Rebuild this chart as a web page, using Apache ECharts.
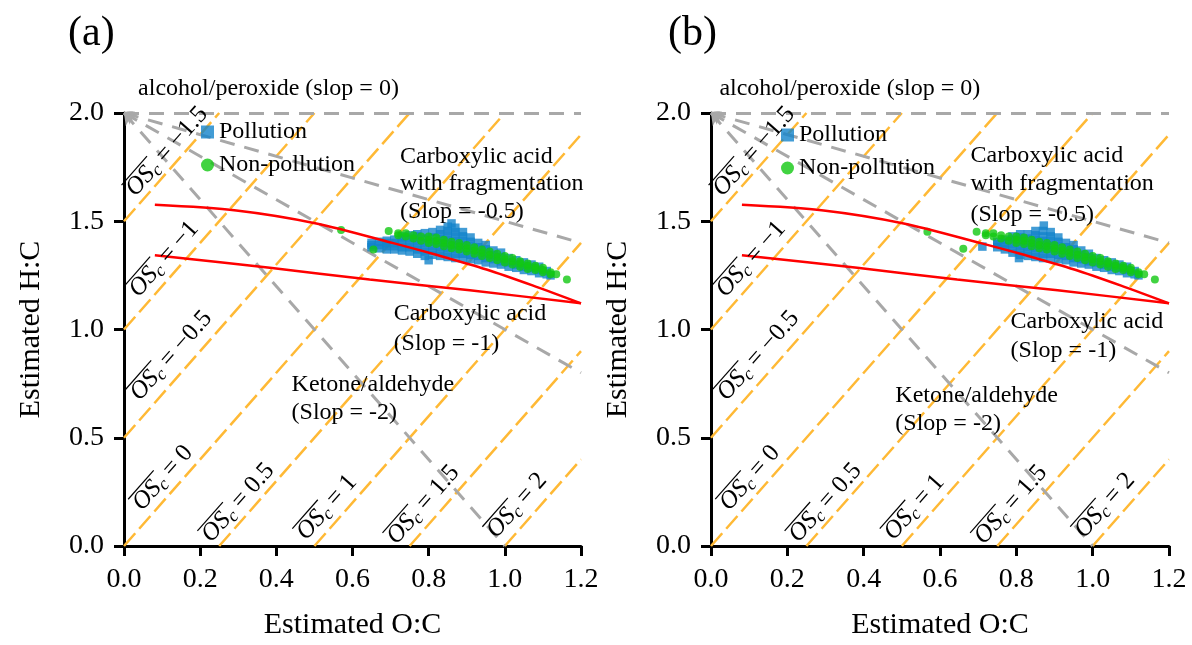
<!DOCTYPE html>
<html>
<head>
<meta charset="utf-8">
<title>Van Krevelen</title>
<script src="https://cdn.jsdelivr.net/npm/echarts@6.0.0/dist/echarts.min.js"></script>
<style>
html, body { margin: 0; padding: 0; background: #fff; }
#main { width: 1192px; height: 645px; }
</style>
</head>
<body>
<div id="main"></div>
<script>
// ---------------- data ----------------
const xTicks = [0, 0.2, 0.4, 0.6, 0.8, 1.0, 1.2];
const yTicks = [0, 0.5, 1.0, 1.5, 2.0];

// average carbon oxidation state lines (H:C = 2*O:C - OSc)
const oscValues = ['\u22121.5', '\u22121', '\u22120.5', '0', '0.5', '1', '1.5', '2'];
const oscLines = [
  [[0, 1.5], [0.25, 2]],
  [[0, 1], [0.5, 2]],
  [[0, 0.5], [0.75, 2]],
  [[0, 0], [1, 2]],
  [[0.25, 0], [1.2, 1.9]],
  [[0.5, 0], [1.2, 1.4]],
  [[0.75, 0], [1.2, 0.9]],
  [[1, 0], [1.2, 0.4]]
];
// centre of each OSc label
const oscLabelPos = [
  [0.113, 1.822], [0.105, 1.325], [0.124, 0.879], [0.102, 0.314],
  [0.300, 0.200], [0.533, 0.178], [0.786, 0.191], [1.032, 0.187]
];

// functionalisation slopes drawn from (0, 2)
const slopeLines = [
  [[0, 2], [1.2, 2]],
  [[0, 2], [1.2, 1.4]],
  [[0, 2], [1.2, 0.8]],
  [[0, 2], [1, 0]]
];

// red boundary curves
const redUpper = [[0.081, 1.576], [0.295, 1.550], [0.505, 1.490], [0.707, 1.399], [0.820, 1.345], [0.952, 1.277], [1.083, 1.197], [1.2, 1.121]];
const redLower = [[0.081, 1.343], [0.383, 1.285], [0.645, 1.231], [0.908, 1.181], [1.2, 1.121]];

// panel (a)
const pollutionA = [
  [0.65,1.38],[0.65,1.39],[0.65,1.40],
  [0.67,1.375],[0.67,1.39],[0.67,1.405],
  [0.69,1.37],[0.69,1.385],[0.69,1.40],[0.69,1.41],
  [0.71,1.37],[0.71,1.385],[0.71,1.40],[0.71,1.415],
  [0.73,1.365],[0.73,1.38],[0.73,1.40],[0.73,1.42],[0.73,1.43],
  [0.75,1.36],[0.75,1.38],[0.75,1.40],[0.75,1.42],[0.75,1.435],
  [0.77,1.35],[0.77,1.37],[0.77,1.39],[0.77,1.41],[0.77,1.43],[0.77,1.44],
  [0.79,1.34],[0.79,1.36],[0.79,1.38],[0.79,1.40],[0.79,1.42],[0.79,1.445],
  [0.80,1.32],
  [0.81,1.345],[0.81,1.365],[0.81,1.385],[0.81,1.405],[0.81,1.425],[0.81,1.45],
  [0.83,1.34],[0.83,1.36],[0.83,1.38],[0.83,1.40],[0.83,1.42],[0.83,1.44],[0.83,1.46],
  [0.85,1.335],[0.85,1.355],[0.85,1.375],[0.85,1.395],[0.85,1.415],[0.85,1.435],[0.85,1.455],[0.85,1.475],
  [0.86,1.49],
  [0.87,1.33],[0.87,1.35],[0.87,1.37],[0.87,1.39],[0.87,1.41],[0.87,1.43],[0.87,1.45],[0.87,1.47],
  [0.89,1.33],[0.89,1.35],[0.89,1.37],[0.89,1.39],[0.89,1.41],[0.89,1.43],[0.89,1.45],
  [0.91,1.325],[0.91,1.345],[0.91,1.365],[0.91,1.385],[0.91,1.405],[0.91,1.425],
  [0.93,1.32],[0.93,1.34],[0.93,1.36],[0.93,1.38],[0.93,1.40],
  [0.95,1.31],[0.95,1.33],[0.95,1.35],[0.95,1.37],[0.95,1.39],
  [0.97,1.305],[0.97,1.325],[0.97,1.345],[0.97,1.365],
  [0.99,1.30],[0.99,1.315],[0.99,1.335],[0.99,1.355],
  [1.01,1.29],[1.01,1.31],[1.01,1.33],
  [1.03,1.285],[1.03,1.30],[1.03,1.32],
  [1.05,1.275],[1.05,1.29],[1.05,1.31],
  [1.07,1.27],[1.07,1.285],[1.07,1.30],
  [1.09,1.26],[1.09,1.275],[1.09,1.29],
  [1.11,1.255],[1.11,1.27],
  [1.12,1.25]
];
const nonPollutionA = [
  [0.57,1.46],[0.655,1.37],[0.695,1.455],
  [0.72,1.435],[0.72,1.445],
  [0.74,1.43],[0.74,1.445],
  [0.76,1.42],[0.76,1.435],
  [0.78,1.41],[0.78,1.43],
  [0.80,1.40],[0.80,1.415],[0.80,1.43],
  [0.82,1.395],[0.82,1.41],[0.82,1.425],
  [0.84,1.385],[0.84,1.40],[0.84,1.415],
  [0.86,1.375],[0.86,1.39],[0.86,1.405],
  [0.88,1.37],[0.88,1.385],[0.88,1.40],
  [0.90,1.36],[0.90,1.375],[0.90,1.39],
  [0.92,1.35],[0.92,1.365],[0.92,1.38],
  [0.94,1.34],[0.94,1.355],[0.94,1.37],
  [0.96,1.33],[0.96,1.345],[0.96,1.36],
  [0.98,1.32],[0.98,1.335],[0.98,1.35],
  [1.00,1.31],[1.00,1.325],[1.00,1.34],
  [1.02,1.30],[1.02,1.315],[1.02,1.33],
  [1.04,1.29],[1.04,1.305],[1.04,1.315],
  [1.06,1.28],[1.06,1.295],[1.06,1.305],
  [1.08,1.275],[1.08,1.285],[1.08,1.295],
  [1.10,1.265],[1.10,1.275],[1.10,1.285],
  [1.12,1.255],[1.12,1.265],
  [1.135,1.255],[1.163,1.231]
];

// panel (b)
const pollutionB = [
  [0.711,1.383],[0.807,1.33],
  [0.75,1.38],[0.75,1.395],[0.75,1.405],
  [0.77,1.37],[0.77,1.385],[0.77,1.40],[0.77,1.415],
  [0.79,1.355],[0.79,1.375],[0.79,1.395],[0.79,1.415],[0.79,1.43],
  [0.81,1.345],[0.81,1.365],[0.81,1.385],[0.81,1.405],[0.81,1.425],[0.81,1.44],
  [0.83,1.34],[0.83,1.36],[0.83,1.38],[0.83,1.40],[0.83,1.42],[0.83,1.44],
  [0.85,1.335],[0.85,1.355],[0.85,1.375],[0.85,1.395],[0.85,1.415],[0.85,1.435],[0.85,1.455],
  [0.87,1.33],[0.87,1.35],[0.87,1.37],[0.87,1.39],[0.87,1.41],[0.87,1.43],[0.87,1.455],[0.872,1.48],
  [0.89,1.33],[0.89,1.35],[0.89,1.37],[0.89,1.39],[0.89,1.41],[0.89,1.43],[0.89,1.45],
  [0.91,1.325],[0.91,1.345],[0.91,1.365],[0.91,1.385],[0.91,1.405],[0.91,1.425],
  [0.93,1.32],[0.93,1.34],[0.93,1.36],[0.93,1.38],[0.93,1.40],
  [0.95,1.31],[0.95,1.33],[0.95,1.35],[0.95,1.37],[0.95,1.39],
  [0.97,1.305],[0.97,1.325],[0.97,1.345],[0.97,1.365],
  [0.99,1.30],[0.99,1.315],[0.99,1.335],[0.99,1.35],
  [1.01,1.29],[1.01,1.31],[1.01,1.33],
  [1.03,1.285],[1.03,1.30],[1.03,1.32],
  [1.05,1.275],[1.05,1.29],[1.05,1.31],
  [1.07,1.27],[1.07,1.285],[1.07,1.30],
  [1.09,1.26],[1.09,1.275],[1.09,1.29],
  [1.11,1.255],[1.11,1.27],
  [1.12,1.25]
];
const nonPollutionB = [
  [0.567,1.452],[0.661,1.373],[0.696,1.452],
  [0.72,1.435],[0.72,1.445],
  [0.74,1.43],[0.74,1.445],
  [0.76,1.42],[0.76,1.435],
  [0.78,1.41],[0.78,1.43],
  [0.80,1.40],[0.80,1.415],[0.80,1.43],
  [0.82,1.395],[0.82,1.41],[0.82,1.425],
  [0.84,1.385],[0.84,1.40],[0.84,1.415],
  [0.86,1.375],[0.86,1.39],[0.86,1.405],
  [0.88,1.37],[0.88,1.385],[0.88,1.40],
  [0.90,1.36],[0.90,1.375],[0.90,1.39],
  [0.92,1.35],[0.92,1.365],[0.92,1.38],
  [0.94,1.34],[0.94,1.355],[0.94,1.37],
  [0.96,1.33],[0.96,1.345],[0.96,1.36],
  [0.98,1.32],[0.98,1.335],[0.98,1.35],
  [1.00,1.31],[1.00,1.325],[1.00,1.34],
  [1.02,1.30],[1.02,1.315],[1.02,1.33],
  [1.04,1.29],[1.04,1.305],[1.04,1.315],
  [1.06,1.28],[1.06,1.295],[1.06,1.305],
  [1.08,1.275],[1.08,1.285],[1.08,1.295],
  [1.10,1.265],[1.10,1.275],[1.10,1.285],
  [1.12,1.255],[1.12,1.265],
  [1.135,1.255],[1.163,1.231]
];

// text annotations: [O:C, H:C] of the left edge / vertical middle of each line
const noteTexts = [
  'alcohol/peroxide (slop = 0)',
  'Carboxylic acid', 'with fragmentation', '(Slop = -0.5)',
  'Carboxylic acid', '(Slop = -1)',
  'Ketone/aldehyde', '(Slop = -2)'
];
const notePosA = [
  [0.037, 2.114],
  [0.725, 1.800], [0.725, 1.672], [0.725, 1.544],
  [0.708, 1.072], [0.708, 0.935],
  [0.440, 0.747], [0.440, 0.616]
];
const notePosB = [
  [0.022, 2.112],
  [0.680, 1.801], [0.680, 1.672], [0.680, 1.528],
  [0.785, 1.034], [0.785, 0.902],
  [0.483, 0.692], [0.483, 0.565]
];

// ---------------- chart ----------------
const SERIF = '"Liberation Serif", "Times New Roman", serif';
const ORANGE = '#FFB935';
const GREY = '#A8A8A8';
const BLUE = '#1383CB';
const GREEN = '#12C812';
const OSC_FS = 25;

const measureCtx = document.createElement('canvas').getContext('2d');
function textW(s, font) {
  measureCtx.font = font;
  return measureCtx.measureText(s).width;
}

function renderOsc(params, api) {
  const i = params.dataIndex;
  const p = api.coord([api.value(0), api.value(1)]);
  const a = api.coord([0, 0]);
  const b = api.coord([1, 2]);
  const ang = Math.atan2(a[1] - b[1], b[0] - a[0]);
  const subFs = Math.round(OSC_FS * 0.7);
  const rest = ' = ' + oscValues[i];
  const w1 = textW('OS', 'italic ' + OSC_FS + 'px ' + SERIF);
  const w2 = textW('c', 'italic ' + subFs + 'px ' + SERIF);
  const w3 = textW(rest, OSC_FS + 'px ' + SERIF);
  const x0 = -(w1 + w2 + w3) / 2;
  return {
    type: 'group',
    x: p[0],
    y: p[1],
    rotation: ang,
    children: [
      { type: 'text', x: x0, y: 0, style: { text: 'OS', fontSize: OSC_FS, fontStyle: 'italic', fontFamily: SERIF, fill: '#000', align: 'left', verticalAlign: 'middle' } },
      { type: 'text', x: x0 + w1, y: OSC_FS * 0.22, style: { text: 'c', fontSize: subFs, fontStyle: 'italic', fontFamily: SERIF, fill: '#000', align: 'left', verticalAlign: 'middle' } },
      { type: 'text', x: x0 + w1 + w2, y: 0, style: { text: rest, fontSize: OSC_FS, fontFamily: SERIF, fill: '#000', align: 'left', verticalAlign: 'middle' } },
      { type: 'line', shape: { x1: x0, y1: -OSC_FS * 0.48, x2: x0 + w1 + w2, y2: -OSC_FS * 0.48 }, style: { stroke: '#000', lineWidth: 1.2 } }
    ]
  };
}

function renderNote(params, api) {
  const p = api.coord([api.value(0), api.value(1)]);
  return {
    type: 'text',
    x: p[0],
    y: p[1],
    style: { text: noteTexts[params.dataIndex], fontSize: 24, fontFamily: SERIF, fill: '#000', align: 'left', verticalAlign: 'middle' }
  };
}

function panelSeries(k, pollution, nonPollution, notePos) {
  const ax = { xAxisIndex: k, yAxisIndex: k };
  const list = [];
  list.push(Object.assign({
    type: 'lines', coordinateSystem: 'cartesian2d', silent: true, z: 1,
    lineStyle: { color: ORANGE, width: 2.5, type: [17, 6], opacity: 1 },
    data: oscLines.map(c => ({ coords: c }))
  }, ax));
  list.push(Object.assign({
    type: 'lines', coordinateSystem: 'cartesian2d', silent: true, z: 1,
    symbol: ['arrow', 'none'], symbolSize: [11, 13],
    lineStyle: { color: GREY, width: 3, type: [15, 10], opacity: 1 },
    data: slopeLines.map(c => ({ coords: c }))
  }, ax));
  list.push(Object.assign({
    name: 'Pollution', type: 'scatter', symbol: 'rect', symbolSize: 8.5, z: 2,
    itemStyle: { color: BLUE }, data: pollution
  }, ax));
  list.push(Object.assign({
    name: 'Non-pollution', type: 'scatter', symbol: 'circle', symbolSize: 8, z: 3,
    itemStyle: { color: GREEN }, data: nonPollution
  }, ax));
  [redUpper, redLower].forEach(d => {
    list.push(Object.assign({
      type: 'line', smooth: 0.3, showSymbol: false, silent: true, z: 4,
      lineStyle: { color: '#FF0000', width: 2.5 }, data: d
    }, ax));
  });
  list.push(Object.assign({
    type: 'custom', renderItem: renderOsc, silent: true, z: 5, clip: false,
    encode: { x: 0, y: 1 }, data: oscLabelPos
  }, ax));
  list.push(Object.assign({
    type: 'custom', renderItem: renderNote, silent: true, z: 5, clip: false,
    encode: { x: 0, y: 1 }, data: notePos
  }, ax));
  return list;
}

function xAxisFor(k) {
  return {
    gridIndex: k, type: 'value', min: xTicks[0], max: xTicks[xTicks.length - 1], interval: 0.2,
    name: 'Estimated O:C', nameLocation: 'middle', nameGap: 64,
    nameTextStyle: { fontSize: 30, fontFamily: SERIF, color: '#000' },
    axisLine: { onZero: false, lineStyle: { color: '#000', width: 3 } },
    axisTick: { length: 10, lineStyle: { color: '#000', width: 3 } },
    axisLabel: { fontSize: 28, fontFamily: SERIF, color: '#000', margin: 20, formatter: v => v.toFixed(1) },
    splitLine: { show: false }
  };
}
function yAxisFor(k) {
  return {
    gridIndex: k, type: 'value', min: yTicks[0], max: yTicks[yTicks.length - 1], interval: 0.5,
    name: 'Estimated H:C', nameLocation: 'middle', nameGap: 78,
    nameTextStyle: { fontSize: 30, fontFamily: SERIF, color: '#000' },
    axisLine: { onZero: false, lineStyle: { color: '#000', width: 3 } },
    axisTick: { length: 10, lineStyle: { color: '#000', width: 3 } },
    axisLabel: { fontSize: 28, fontFamily: SERIF, color: '#000', margin: 20, formatter: v => v.toFixed(1) },
    splitLine: { show: false }
  };
}
function legendFor(left, top) {
  return {
    left: left, top: top, orient: 'vertical', padding: 0, itemGap: 9,
    itemWidth: 13, itemHeight: 13, selectedMode: false,
    textStyle: { fontSize: 24, fontFamily: SERIF, color: '#000', lineHeight: 24 },
    data: [{ name: 'Pollution', icon: 'rect' }, { name: 'Non-pollution', icon: 'circle' }]
  };
}

const chart = echarts.init(document.getElementById('main'), null, { renderer: 'canvas' });
chart.setOption({
  animation: false,
  backgroundColor: '#fff',
  title: [
    { text: '(a)', left: 63, top: 8, textStyle: { fontSize: 42, fontWeight: 'normal', fontFamily: SERIF, color: '#000' } },
    { text: '(b)', left: 663, top: 8, textStyle: { fontSize: 42, fontWeight: 'normal', fontFamily: SERIF, color: '#000' } }
  ],
  legend: [legendFor(201, 120), legendFor(781, 123)],
  grid: [
    { left: 124, top: 113, width: 457, height: 439 },
    { left: 711, top: 113, width: 458, height: 439 }
  ],
  xAxis: [xAxisFor(0), xAxisFor(1)],
  yAxis: [yAxisFor(0), yAxisFor(1)],
  series: panelSeries(0, pollutionA, nonPollutionA, notePosA)
    .concat(panelSeries(1, pollutionB, nonPollutionB, notePosB))
});
</script>
</body>
</html>
